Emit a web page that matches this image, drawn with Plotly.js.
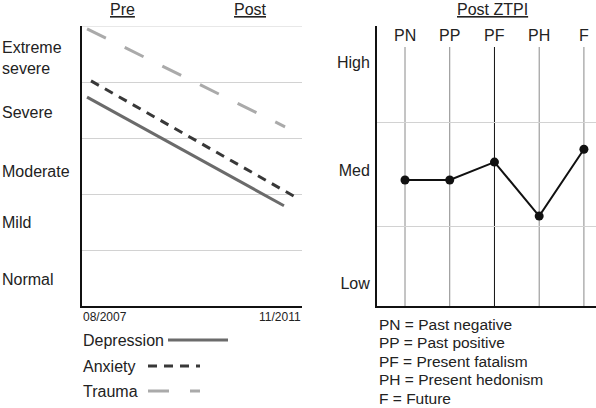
<!DOCTYPE html>
<html>
<head>
<meta charset="utf-8">
<script src="https://cdn.plot.ly/plotly-3.0.1.min.js"></script>
<style>html,body{margin:0;padding:0;background:#fff}#chart{width:596px;height:408px}</style>
</head>
<body>
<div id="chart"></div>
<script>
// ---- Data ----
const seriesNames = ['Depression', 'Anxiety', 'Trauma'];
const preX = [0.23, 0.41, 0.23];
const postX = [9.18, 9.68, 9.23];
const preVals = [3.73, 4.02, 4.95];
const postVals = [1.79, 1.95, 3.20];
const severityLabels = ['Normal', 'Mild', 'Moderate', 'Severe', 'Extreme<br>severe'];
const dateLabels = ['08/2007', '11/2011'];
const phaseLabels = ['Pre', 'Post'];

const ztpiCats = ['PN', 'PP', 'PF', 'PH', 'F'];
const ztpiVals = [4.5, 4.5, 5.14, 3.21, 5.6];
const ztpiDefs = ['Past negative', 'Past positive', 'Present fatalism', 'Present hedonism', 'Future'];
const levelLabels = ['Low', 'Med', 'High'];

// ---- Styles ----
const W = 596, H = 408;
const FONT = 'Liberation Sans, Arial, Helvetica, sans-serif';
const TXT = '#222';
const GRID = '#d2d2d2';
const styles = [
  {color: '#6b6b6b', width: 3, dash: 'solid'},
  {color: '#383838', width: 3, dash: '9px,7px'},
  {color: '#aaaaaa', width: 3, dash: '21px,21px'}
];
const px = x => x / W;
const py = y => (H - y) / H;

const traces = seriesNames.map((n, i) => ({
  type: 'scatter', mode: 'lines', name: n,
  x: [preX[i], postX[i]], y: [preVals[i], postVals[i]],
  xaxis: 'x', yaxis: 'y',
  line: styles[i], showlegend: false, hoverinfo: 'skip'
}));
traces.push({
  type: 'scatter', mode: 'lines+markers',
  x: ztpiCats, y: ztpiVals, xaxis: 'x2', yaxis: 'y2',
  line: {color: '#111', width: 2},
  marker: {color: '#111', size: 9},
  showlegend: false, hoverinfo: 'skip'
});

const annotations = [];
const sevPos = [0.48, 1.5, 2.4, 3.45, 4.42];
severityLabels.forEach((t, i) => annotations.push({
  text: t, xref: 'paper', x: 0, xanchor: 'left', yref: 'y', y: sevPos[i], yanchor: 'middle',
  showarrow: false, align: 'left', font: {size: 16, color: TXT, family: FONT}
}));
// phase headers
const phaseX = [122, 251];
phaseLabels.forEach((t, i) => annotations.push({
  text: '<u>' + t + '</u>', xref: 'paper', yref: 'paper', x: px(phaseX[i]), y: py(9),
  xanchor: 'center', yanchor: 'middle', showarrow: false, font: {size: 16, color: TXT, family: FONT}
}));
annotations.push({
  text: '<u>Post ZTPI</u>', xref: 'paper', yref: 'paper', x: px(492), y: py(9),
  xanchor: 'center', yanchor: 'middle', showarrow: false, font: {size: 16, color: TXT, family: FONT}
});
// date labels
annotations.push({text: dateLabels[0], xref: 'paper', yref: 'paper', x: px(81), y: py(317),
  xanchor: 'left', yanchor: 'middle', showarrow: false, font: {size: 12, color: TXT, family: FONT}});
annotations.push({text: dateLabels[1], xref: 'paper', yref: 'paper', x: px(303), y: py(317),
  xanchor: 'right', yanchor: 'middle', showarrow: false, font: {size: 12, color: TXT, family: FONT}});
// left legend
const legY = [340, 366, 391];
const legX0 = [168, 148, 148], legX1 = [228, 200, 200];
const shapes = [];
// top gridline of the left panel (Plotly drops gridlines that sit on the plot edge)
shapes.push({type: 'line', xref: 'x domain', yref: 'y', x0: 0, x1: 1, y0: 5, y1: 5,
  line: {color: GRID, width: 1}, layer: 'below'});
seriesNames.forEach((n, i) => {
  annotations.push({text: n, xref: 'paper', yref: 'paper', x: px(81), y: py(legY[i]),
    xanchor: 'left', yanchor: 'middle', showarrow: false, font: {size: 16, color: TXT, family: FONT}});
  shapes.push({type: 'line', xref: 'paper', yref: 'paper',
    x0: px(legX0[i]), x1: px(legX1[i]), y0: py(legY[i]), y1: py(legY[i]), line: styles[i]});
});
// ZTPI category labels + vertical lines
ztpiCats.forEach((c, i) => {
  annotations.push({text: c, xref: 'x2', x: c, yref: 'paper', y: py(35), xanchor: 'center', yanchor: 'middle',
    showarrow: false, font: {size: 16, color: TXT, family: FONT}});
  shapes.push({type: 'line', xref: 'x2', yref: 'y2', x0: c, x1: c, y0: 0, y1: 9.25,
    line: {color: c === 'PF' ? '#111' : '#8a8a8a', width: 1}, layer: 'below'});
});
// ZTPI definitions
ztpiCats.forEach((c, i) => annotations.push({
  text: c + ' = ' + ztpiDefs[i], xref: 'paper', yref: 'paper', x: px(377), y: py(324 + i * 18.6),
  xanchor: 'left', yanchor: 'middle', showarrow: false, font: {size: 15.5, color: TXT, family: FONT}
}));

const yDom = [py(306), py(26)];
const layout = {
  width: W, height: H,
  margin: {l: 0, r: 0, t: 0, b: 0},
  paper_bgcolor: '#fff', plot_bgcolor: '#fff',
  font: {family: FONT, color: TXT, size: 16},
  showlegend: false,
  xaxis: {domain: [px(82), px(302)], range: [0, 10], showgrid: false, zeroline: false,
    showticklabels: false, ticks: '', showline: true, linecolor: '#111', linewidth: 2, anchor: 'y', fixedrange: true},
  yaxis: {domain: yDom, range: [0, 5], zeroline: false, showticklabels: false, ticks: '',
    tickmode: 'array', tickvals: [1, 2, 3, 4], showgrid: true, gridcolor: GRID, gridwidth: 1,
    showline: true, linecolor: '#111', linewidth: 2, anchor: 'x'},
  xaxis2: {domain: [px(377), 1], type: 'category', range: [-0.626, 4.27], showgrid: false, zeroline: false,
    showticklabels: false, ticks: '', showline: true, linecolor: '#111', linewidth: 2, anchor: 'y2'},
  yaxis2: {domain: yDom, range: [0, 10], showgrid: false, zeroline: false, ticks: '',
    tickmode: 'array', tickvals: [0.82, 4.86, 8.71], ticktext: levelLabels,
    tickfont: {size: 16, color: TXT, family: FONT}, ticklabelstandoff: 2,
    showline: true, linecolor: '#111', linewidth: 2, anchor: 'x2',
    minor: {tickmode: 'array', tickvals: [2.857, 6.571], showgrid: true, gridcolor: GRID, gridwidth: 1, ticks: ''}},
  annotations: annotations,
  shapes: shapes
};

Plotly.newPlot('chart', traces, layout, {staticPlot: true, displayModeBar: false});
</script>
</body>
</html>
